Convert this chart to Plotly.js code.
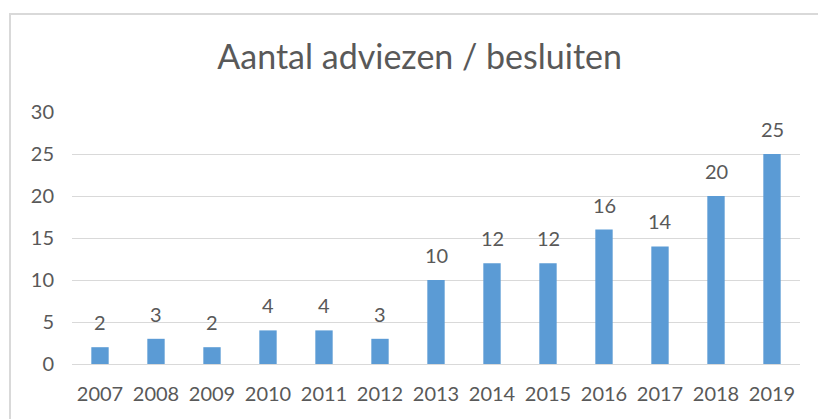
<!DOCTYPE html>
<html>
<head>
<meta charset="utf-8">
<script src="https://cdn.plot.ly/plotly-3.0.1.min.js"></script>
<style>
html,body{margin:0;padding:0;background:#fff;}
#wrap{position:relative;width:818px;height:419px;}
#chart{width:818px;height:419px;}
#frame{position:absolute;left:9px;top:13px;width:809px;height:406px;border-top:2px solid #d9d9d9;border-left:2px solid #d9d9d9;pointer-events:none;box-sizing:border-box;}
</style>
</head>
<body>
<div id="wrap">
<div id="chart"></div>
<div id="frame"></div>
</div>
<script>
const years = ['2007','2008','2009','2010','2011','2012','2013','2014','2015','2016','2017','2018','2019'];
const counts = [2,3,2,4,4,3,10,12,12,16,14,20,25];
const yTicks = [0,5,10,15,20,25,30];

const font = 'Lato, "Open Sans", sans-serif';
const txt = '#595959';

// data labels: x given as category index on the category axis
const labels = years.map((yr, i) => ({
  x: i,
  y: counts[i],
  xref: 'x',
  yref: 'y',
  text: String(counts[i]),
  showarrow: false,
  yanchor: 'middle',
  yshift: 25,
  font: {family: font, size: 20, color: txt}
}));

Plotly.newPlot('chart', [{
  type: 'bar',
  x: years,
  y: counts,
  marker: {color: '#5B9BD5'},
  hoverinfo: 'none'
}], {
  width: 818,
  height: 419,
  margin: {l: 72, r: 18, t: 112, b: 55},
  paper_bgcolor: '#ffffff',
  plot_bgcolor: '#ffffff',
  bargap: 0.69,
  showlegend: false,
  annotations: labels,
  title: {
    text: 'Aantal adviezen / besluiten',
    font: {family: font, size: 34, color: txt},
    x: 0.513, xanchor: 'center',
    y: 0.863, yanchor: 'middle'
  },
  xaxis: {
    type: 'category',
    range: [-0.5, years.length - 0.5],
    autorange: false,
    tickfont: {family: font, size: 20, color: txt},
    showgrid: false,
    showline: true,
    linecolor: '#d9d9d9',
    linewidth: 1,
    ticks: '',
    ticklabelstandoff: 12
  },
  yaxis: {
    range: [0, 30],
    autorange: false,
    tickvals: yTicks,
    ticktext: yTicks.map(String),
    tickfont: {family: font, size: 20, color: txt},
    showgrid: true,
    gridcolor: '#d9d9d9',
    gridwidth: 1,
    zeroline: false,
    showline: false,
    ticks: '',
    ticklabelstandoff: 17
  }
}, {displayModeBar: false, staticPlot: true});
</script>
</body>
</html>
